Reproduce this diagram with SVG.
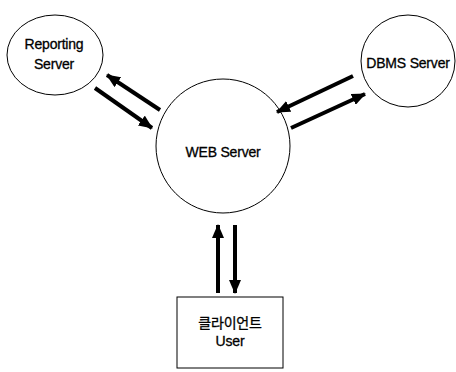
<svg xmlns="http://www.w3.org/2000/svg" width="456" height="372" viewBox="0 0 456 372">
<style>
.n{fill:#fff;stroke:#000;stroke-width:1}
.t{font-family:"Liberation Sans","Noto Sans CJK KR",Arial,sans-serif;font-size:14px;fill:#000;stroke:#000;stroke-width:0.3;text-anchor:middle;letter-spacing:-0.2px}
.c{stroke:#000;stroke-width:4;fill:none;marker-end:url(#ah)}
</style>
<defs>
<marker id="ah" markerUnits="userSpaceOnUse" viewBox="0 0 14 12" refX="13" refY="6" markerWidth="14" markerHeight="12" orient="auto">
<path d="M0,0 L14,6 L0,12 Z" fill="#000"/>
</marker>
</defs>
<rect width="456" height="372" fill="#fff"/>
<g id="reporting">
<ellipse class="n" cx="55" cy="55" rx="48" ry="40"/>
<text class="t" x="54" y="49">Reporting</text>
<text class="t" x="54" y="69">Server</text>
</g>
<g id="dbms">
<ellipse class="n" cx="408" cy="61" rx="47" ry="46"/>
<text class="t" x="408" y="68">DBMS Server</text>
</g>
<g id="web">
<circle class="n" cx="223" cy="146" r="67"/>
<text class="t" x="223" y="157">WEB Server</text>
</g>
<g id="client">
<rect class="n" x="177" y="297" width="106" height="71"/>
<text class="t" x="230" y="328">클라이언트</text>
<text class="t" x="230" y="346">User</text>
</g>
<g id="connectors">
<line class="c" x1="160" y1="110" x2="107" y2="75"/>
<line class="c" x1="95" y1="88" x2="152" y2="128"/>
<line class="c" x1="353" y1="76" x2="277" y2="112"/>
<line class="c" x1="291" y1="128" x2="365" y2="94"/>
<line class="c" x1="218" y1="293" x2="218" y2="225"/>
<line class="c" x1="235" y1="225" x2="235" y2="293"/>
</g>
</svg>
